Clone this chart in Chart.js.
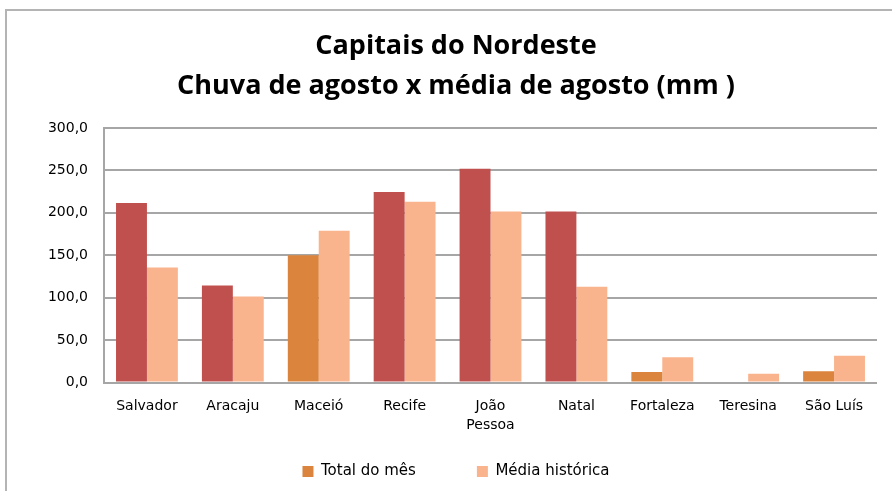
<!DOCTYPE html>
<html>
<head>
<meta charset="utf-8">
<script src="https://cdn.jsdelivr.net/npm/chart.js@4"></script>
<style>
  html, body { margin: 0; padding: 0; background: #fff; overflow: hidden; width: 892px; height: 491px; }
  #frame { position: absolute; left: 5px; top: 9px; width: 905px; height: 524px; border: 2px solid #b4b4b4; }
  #chart { display: block; }
</style>
</head>
<body>
<div id="frame"><canvas id="chart" width="905" height="524"></canvas></div>
<script>
const cities = ['Salvador', 'Aracaju', 'Maceió', 'Recife', ['João', 'Pessoa'], 'Natal', 'Fortaleza', 'Teresina', 'São Luís'];
const totalMes = [211.5, 114.5, 150, 224.5, 252, 201.5, 12.5, 0, 13.5];
const mediaHistorica = [135.5, 101.5, 179, 213, 201.5, 113, 30, 10.5, 31.5];
const yTicks = [0, 50, 100, 150, 200, 250, 300];

const RED = '#c0504d';
const ORANGE = '#db843d';
const PEACH = '#f9b48e';

// month total above the average is drawn red, otherwise orange
const totalColors = totalMes.map((v, i) => v > mediaHistorica[i] ? RED : ORANGE);

const FONT = "'DejaVu Sans', sans-serif";

// the legend needs wide gaps between items but should sit close to the axis labels
const legendShift = {
  id: 'legendShift',
  afterLayout(chart) {
    const lg = chart.legend;
    if (!lg) return;
    lg.top -= 46;
    lg.bottom -= 46;
  }
};

new Chart(document.getElementById('chart'), {
  type: 'bar',
  data: {
    labels: cities,
    datasets: [
      { label: 'Total do mês', data: totalMes, backgroundColor: totalColors, borderWidth: 0,
        categoryPercentage: 0.72, barPercentage: 1 },
      { label: 'Média histórica', data: mediaHistorica, backgroundColor: PEACH, borderWidth: 0,
        categoryPercentage: 0.72, barPercentage: 1 }
    ]
  },
  options: {
    responsive: false,
    animation: false,
    layout: { padding: { left: 28, right: 35, top: 0, bottom: 0 } },
    plugins: {
      title: {
        display: true,
        text: ['Capitais do Nordeste', 'Chuva de agosto x média de agosto (mm )'],
        color: '#000',
        font: { family: "'Open Sans', sans-serif", size: 27, weight: 'bold', lineHeight: 1.48 },
        padding: { top: 15, bottom: 22 }
      },
      legend: {
        position: 'bottom',
        labels: {
          generateLabels: () => [
            { text: 'Total do mês', fillStyle: ORANGE, strokeStyle: ORANGE, lineWidth: 0, datasetIndex: 0 },
            { text: 'Média histórica', fillStyle: PEACH, strokeStyle: PEACH, lineWidth: 0, datasetIndex: 1 }
          ],
          boxWidth: 11, boxHeight: 11, padding: 61,
          color: '#000',
          font: { family: FONT, size: 15 }
        }
      },
      tooltip: { enabled: false }
    },
    scales: {
      x: {
        grid: { display: false, drawTicks: false },
        border: { display: false },
        ticks: { color: '#000', font: { family: FONT, size: 14, lineHeight: 1.3 }, padding: 15, maxRotation: 0 }
      },
      y: {
        min: 0, max: 300,
        afterBuildTicks: (axis) => { axis.ticks = yTicks.map(v => ({ value: v })); },
        grid: { color: '#a6a6a6', lineWidth: 2, drawTicks: false },
        border: { display: true, color: '#a6a6a6', width: 2 },
        ticks: {
          color: '#000', padding: 16,
          font: { family: FONT, size: 14 },
          callback: (v) => v.toFixed(1).replace('.', ',')
        },
        afterFit: (axis) => { axis.width = 69; }
      }
    }
  },
  plugins: [legendShift]
});
</script>
</body>
</html>
